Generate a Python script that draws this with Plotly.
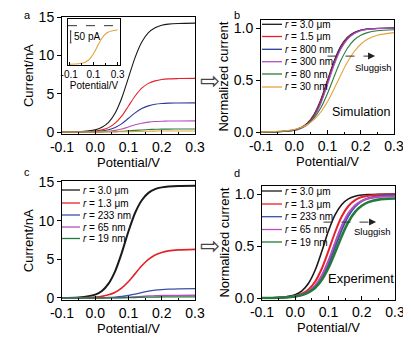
import plotly.graph_objects as go

# page body adds an 8 px margin; the figure fills the rest of the 411x340 window
OFF = 8
W, H = 411 - OFF, 340 - OFF

# ---------------- data ----------------
potential = [-0.1, -0.05, 0.0, 0.02, 0.04, 0.06, 0.08, 0.1, 0.12, 0.14, 0.16, 0.18, 0.2, 0.22, 0.25, 0.3]

x_tick_vals = [-0.1, 0.0, 0.1, 0.2, 0.3]
x_tick_text = ["-0.1", "0.0", "0.1", "0.2", "0.3"]
inset_tick_vals = [-0.1, 0.1, 0.3]
inset_tick_text = ["-0.1", "0.1", "0.3"]
current_tick_vals = [0, 5, 10, 15]
norm_tick_vals = [0.0, 0.5, 1.0]
norm_tick_text = ["0.0", "0.5", "1.0"]

sim_labels = ["<i>r</i> = 3.0 μm", "<i>r</i> = 1.5 μm", "<i>r</i> = 800 nm",
              "<i>r</i> = 300 nm", "<i>r</i> = 80 nm", "<i>r</i> = 30 nm"]
exp_labels = ["<i>r</i> = 3.0 μm", "<i>r</i> = 1.3 μm", "<i>r</i> = 233 nm",
              "<i>r</i> = 65 nm", "<i>r</i> = 19 nm"]

# panel a: simulated current (nA)
sim_cur_3um0 = [0.0, 0.04, 0.28, 0.61, 1.25, 2.47, 4.46, 7.10, 9.74, 11.73, 12.95, 13.59, 13.92, 14.07, 14.16, 14.20]
sim_cur_1um5 = [0.0, 0.02, 0.13, 0.28, 0.57, 1.16, 2.10, 3.40, 4.70, 5.71, 6.34, 6.67, 6.85, 6.93, 6.97, 7.00]
sim_cur_800nm = [0.0, 0.01, 0.06, 0.14, 0.29, 0.59, 1.09, 1.79, 2.50, 3.06, 3.41, 3.61, 3.71, 3.76, 3.78, 3.80]
sim_cur_300nm = [0.0, 0.0, 0.02, 0.05, 0.10, 0.21, 0.40, 0.66, 0.94, 1.15, 1.29, 1.37, 1.41, 1.43, 1.44, 1.45]
sim_cur_80nm = [0.0, 0.0, 0.01, 0.02, 0.03, 0.05, 0.09, 0.15, 0.21, 0.27, 0.32, 0.35, 0.37, 0.38, 0.39, 0.39]
sim_cur_30nm = [0.0, 0.0, 0.0, 0.01, 0.01, 0.02, 0.03, 0.04, 0.06, 0.08, 0.10, 0.12, 0.13, 0.13, 0.14, 0.14]

# inset: r = 30 nm current (pA)
inset_cur_30nm_pA = [0, 1, 4, 6, 11, 18, 29, 44, 62, 82, 101, 116, 127, 134, 140, 144]
inset_ref_level_pA = 162
inset_scale_bar_pA = [90, 140]

# panel b: simulated normalized current
sim_norm_3um0 = [0.0, 0.003, 0.020, 0.043, 0.088, 0.174, 0.314, 0.500, 0.686, 0.826, 0.912, 0.957, 0.980, 0.991, 0.997, 1.0]
sim_norm_1um5 = [0.0, 0.003, 0.018, 0.040, 0.082, 0.165, 0.300, 0.485, 0.672, 0.816, 0.905, 0.953, 0.978, 0.990, 0.996, 1.0]
sim_norm_800nm = [0.0, 0.003, 0.017, 0.037, 0.077, 0.156, 0.287, 0.470, 0.658, 0.806, 0.898, 0.949, 0.976, 0.989, 0.995, 0.999]
sim_norm_300nm = [0.0, 0.003, 0.016, 0.035, 0.072, 0.147, 0.274, 0.455, 0.645, 0.796, 0.891, 0.945, 0.973, 0.987, 0.994, 0.998]
sim_norm_80nm = [0.001, 0.004, 0.021, 0.039, 0.075, 0.136, 0.233, 0.371, 0.534, 0.687, 0.806, 0.885, 0.930, 0.956, 0.974, 0.983]
sim_norm_30nm = [0.002, 0.007, 0.025, 0.043, 0.073, 0.121, 0.193, 0.292, 0.416, 0.549, 0.673, 0.772, 0.844, 0.892, 0.931, 0.956]

# panel c: experimental current (nA)
exp_cur_3um0 = [0.01, 0.07, 0.44, 0.91, 1.86, 3.48, 5.87, 8.63, 11.02, 12.64, 13.59, 14.07, 14.30, 14.40, 14.47, 14.50]
exp_cur_1um3 = [0.0, 0.02, 0.11, 0.21, 0.41, 0.75, 1.32, 2.14, 3.15, 4.16, 4.98, 5.55, 5.89, 6.09, 6.22, 6.29]
exp_cur_233nm = [0.0, 0.0, 0.02, 0.03, 0.06, 0.11, 0.19, 0.32, 0.50, 0.70, 0.88, 1.01, 1.09, 1.14, 1.18, 1.20]
exp_cur_65nm = [0.0, 0.0, 0.0, 0.01, 0.02, 0.03, 0.06, 0.09, 0.15, 0.20, 0.26, 0.29, 0.32, 0.33, 0.34, 0.35]
exp_cur_19nm = [0.0, 0.0, 0.0, 0.0, 0.01, 0.01, 0.02, 0.04, 0.06, 0.09, 0.11, 0.12, 0.13, 0.14, 0.15, 0.15]

# panel d: experimental normalized current
exp_norm_3um0 = [0.001, 0.005, 0.032, 0.069, 0.142, 0.269, 0.450, 0.646, 0.802, 0.900, 0.953, 0.978, 0.990, 0.995, 0.998, 1.0]
exp_norm_1um3 = [0.0, 0.003, 0.020, 0.041, 0.083, 0.159, 0.284, 0.454, 0.635, 0.786, 0.885, 0.942, 0.971, 0.984, 0.993, 0.997]
exp_norm_233nm = [0.0, 0.003, 0.016, 0.031, 0.059, 0.111, 0.199, 0.331, 0.495, 0.659, 0.791, 0.879, 0.931, 0.959, 0.979, 0.990]
exp_norm_65nm = [0.0, 0.003, 0.016, 0.032, 0.063, 0.121, 0.219, 0.362, 0.534, 0.695, 0.816, 0.893, 0.935, 0.957, 0.972, 0.979]
exp_norm_19nm = [0.001, 0.003, 0.014, 0.028, 0.054, 0.099, 0.175, 0.291, 0.440, 0.597, 0.732, 0.828, 0.887, 0.922, 0.946, 0.957]

sim_colors = ["#1a1a1a", "#e3222a", "#283c9a", "#b64fc0", "#2a7d3a", "#e3a33a"]
exp_colors = ["#1a1a1a", "#e3222a", "#3a4fa8", "#b64fc0", "#237a3c"]

# ---------------- layout helpers ----------------
FONT = "Liberation Sans, Arial, sans-serif"


def fx(px):
    return (px - OFF) / W


def fy(py):
    return 1 - (py - OFF) / H


def xdom(l, r):
    return [fx(l), fx(r)]


def ydom(bottom, top):
    return [fy(bottom), fy(top)]


fig = go.Figure()

panel_a = [sim_cur_3um0, sim_cur_1um5, sim_cur_800nm, sim_cur_300nm, sim_cur_80nm, sim_cur_30nm]
panel_b = [sim_norm_3um0, sim_norm_1um5, sim_norm_800nm, sim_norm_300nm, sim_norm_80nm, sim_norm_30nm]
panel_c = [exp_cur_3um0, exp_cur_1um3, exp_cur_233nm, exp_cur_65nm, exp_cur_19nm]
panel_d = [exp_norm_3um0, exp_norm_1um3, exp_norm_233nm, exp_norm_65nm, exp_norm_19nm]

line_shape = dict(shape="spline", smoothing=0.8)

for ys, c in zip(panel_a, sim_colors):
    fig.add_trace(go.Scatter(x=potential, y=ys, mode="lines", line=dict(color=c, width=1.1, **line_shape),
                             xaxis="x", yaxis="y", showlegend=False))
for ys, c in zip(panel_b, sim_colors):
    fig.add_trace(go.Scatter(x=potential, y=ys, mode="lines", line=dict(color=c, width=1.1, **line_shape),
                             xaxis="x2", yaxis="y2", showlegend=False))
for ys, c, w in zip(panel_c, exp_colors, [2.0, 1.6, 1.3, 1.3, 1.3]):
    fig.add_trace(go.Scatter(x=potential, y=ys, mode="lines", line=dict(color=c, width=w, **line_shape),
                             xaxis="x3", yaxis="y3", showlegend=False))
for ys, c, w in zip(panel_d, exp_colors, [1.6, 2.0, 2.0, 2.0, 2.6]):
    fig.add_trace(go.Scatter(x=potential, y=ys, mode="lines", line=dict(color=c, width=w, **line_shape),
                             xaxis="x4", yaxis="y4", showlegend=False))
fig.add_trace(go.Scatter(x=potential, y=inset_cur_30nm_pA, mode="lines",
                         line=dict(color=sim_colors[5], width=1.1, **line_shape),
                         xaxis="x5", yaxis="y5", showlegend=False))

tickfont = dict(family=FONT, size=14, color="black")
titlefont = dict(family=FONT, size=13, color="black")


def xaxis(dom, anchor):
    return dict(domain=dom, anchor=anchor, range=[-0.1, 0.3], tickvals=x_tick_vals, ticktext=x_tick_text,
                ticks="inside", ticklen=4, tickcolor="black", automargin=False,
                minor=dict(ticks="inside", ticklen=2, dtick=0.05, tick0=0, tickcolor="black"),
                showline=True, linecolor="black", linewidth=1, mirror=True, showgrid=False, zeroline=False,
                tickfont=tickfont, title=dict(text="Potential/V", font=titlefont, standoff=3))


def yaxis(dom, anchor, rng, vals, text, title):
    return dict(domain=dom, anchor=anchor, range=rng, tickvals=vals, ticktext=text,
                ticks="outside", ticklen=4, tickcolor="black", automargin=False,
                showline=True, linecolor="black", linewidth=1, mirror=True, showgrid=False, zeroline=False,
                tickfont=tickfont, title=dict(text=title, font=titlefont, standoff=2))


layout = dict(
    width=W, height=H, margin=dict(l=0, r=0, t=0, b=0, autoexpand=False),
    paper_bgcolor="white", plot_bgcolor="white",
    xaxis=xaxis(xdom(62, 195), "y"),
    yaxis=yaxis(ydom(134.3, 17), "x", [-0.3, 15], current_tick_vals, [str(v) for v in current_tick_vals], "Current/nA"),
    xaxis2=xaxis(xdom(261, 394), "y2"),
    yaxis2=yaxis(ydom(133.6, 19.7), "x2", [-0.015, 1.08], norm_tick_vals, norm_tick_text, "Normalized current"),
    xaxis3=xaxis(xdom(62, 195), "y3"),
    yaxis3=yaxis(ydom(300.3, 181.2), "x3", [-0.3, 15.1], current_tick_vals, [str(v) for v in current_tick_vals], "Current/nA"),
    xaxis4=xaxis(xdom(262, 395), "y4"),
    yaxis4=yaxis(ydom(299.6, 185.7), "x4", [-0.015, 1.08], norm_tick_vals, norm_tick_text, "Normalized current"),
    xaxis5=dict(domain=xdom(68, 120), anchor="y5", range=[-0.11, 0.32], tickvals=inset_tick_vals,
                ticktext=inset_tick_text, ticks="inside", ticklen=3, tickcolor="black", automargin=False,
                minor=dict(ticks="inside", ticklen=2, dtick=0.1, tick0=0, tickcolor="black"),
                showline=True, linecolor="black", linewidth=1, mirror=True, showgrid=False, zeroline=False,
                tickfont=dict(family=FONT, size=10, color="black"),
                title=dict(text="Potential/V", font=dict(family=FONT, size=10, color="black"), standoff=1)),
    yaxis5=dict(domain=ydom(65, 19), anchor="x5", range=[-3, 190], showticklabels=False, ticks="",
                automargin=False,
                showline=True, linecolor="black", linewidth=1, mirror=True, showgrid=False, zeroline=False),
)
fig.update_layout(**layout)

shapes = []
annotations = []

# inset reference dashed line and scale bar
shapes.append(dict(type="line", xref="x5 domain", yref="y5", x0=0, x1=1, y0=inset_ref_level_pA,
                   y1=inset_ref_level_pA, line=dict(color="#333", width=1, dash="dash")))
sb_x = -0.088
shapes.append(dict(type="line", xref="x5", yref="y5", x0=sb_x, x1=sb_x, y0=inset_scale_bar_pA[0],
                   y1=inset_scale_bar_pA[1], line=dict(color="#333", width=1)))
for v in inset_scale_bar_pA:
    shapes.append(dict(type="line", xref="x5", yref="y5", x0=sb_x - 0.006, x1=sb_x + 0.006, y0=v, y1=v,
                       line=dict(color="#333", width=1)))
annotations.append(dict(xref="x5", yref="y5", x=sb_x + 0.01, y=sum(inset_scale_bar_pA) / 2, text="50 pA",
                        showarrow=False, xanchor="left", yanchor="middle",
                        font=dict(family=FONT, size=10, color="black")))


# manual legends
def add_legend(labels, colors, x_line0, x_line1, rows):
    for lab, col, yy in zip(labels, colors, rows):
        shapes.append(dict(type="line", xref="paper", yref="paper", x0=fx(x_line0), x1=fx(x_line1),
                           y0=fy(yy), y1=fy(yy), line=dict(color=col, width=1.3)))
        annotations.append(dict(xref="paper", yref="paper", x=fx(x_line1 + 1), y=fy(yy), text=lab,
                                showarrow=False, xanchor="left", yanchor="middle",
                                font=dict(family=FONT, size=10, color="black")))


add_legend(sim_labels, sim_colors, 262, 282, [24.3, 36.5, 49.3, 61.7, 74.0, 87.0])
add_legend(exp_labels, exp_colors, 62, 80, [190, 203, 215, 227, 238.5])
add_legend(exp_labels, exp_colors, 262, 282, [191, 204, 216.7, 229.5, 242])

# sluggish arrows
for xa, ya, x0, x1, y0, tx, ty in [("x2", "y2", 0.1, 0.225, 0.73, 373, 67),
                                    ("x4", "y4", 0.085, 0.225, 0.73, 372, 231)]:
    shapes.append(dict(type="line", xref=xa, yref=ya, x0=x0, x1=x1, y0=y0, y1=y0,
                       line=dict(color="#333", width=1, dash="dash")))
    annotations.append(dict(xref=xa, yref=ya, axref=xa, ayref=ya, x=x1 + 0.018, y=y0, ax=x1 - 0.005, ay=y0,
                            showarrow=True, arrowhead=2, arrowsize=1.4, arrowwidth=1, arrowcolor="#222", text=""))
    annotations.append(dict(xref="paper", yref="paper", x=fx(tx), y=fy(ty), text="Sluggish", showarrow=False,
                            xanchor="center", yanchor="middle", font=dict(family=FONT, size=9.5, color="black")))

annotations.append(dict(xref="paper", yref="paper", x=fx(361), y=fy(112), text="Simulation", showarrow=False,
                        xanchor="center", yanchor="middle", font=dict(family=FONT, size=12.5, color="black")))
annotations.append(dict(xref="paper", yref="paper", x=fx(361), y=fy(278), text="Experiment", showarrow=False,
                        xanchor="center", yanchor="middle", font=dict(family=FONT, size=13, color="black")))

# panel letters
for lab, xx, yy in [("a", 27, 15.5), ("b", 237, 15.5), ("c", 27, 172), ("d", 237, 173)]:
    annotations.append(dict(xref="paper", yref="paper", x=fx(xx), y=fy(yy), text=lab, showarrow=False,
                            xanchor="center", yanchor="middle", font=dict(family=FONT, size=11, color="black")))

# hollow transition arrows
for yy in [81, 246]:
    annotations.append(dict(xref="paper", yref="paper", x=fx(210), y=fy(yy), text="⇨", showarrow=False,
                            xanchor="center", yanchor="middle",
                            font=dict(family="DejaVu Sans", size=24, color="#444")))

fig.update_layout(shapes=shapes, annotations=annotations)
fig.write_html("out.html")
